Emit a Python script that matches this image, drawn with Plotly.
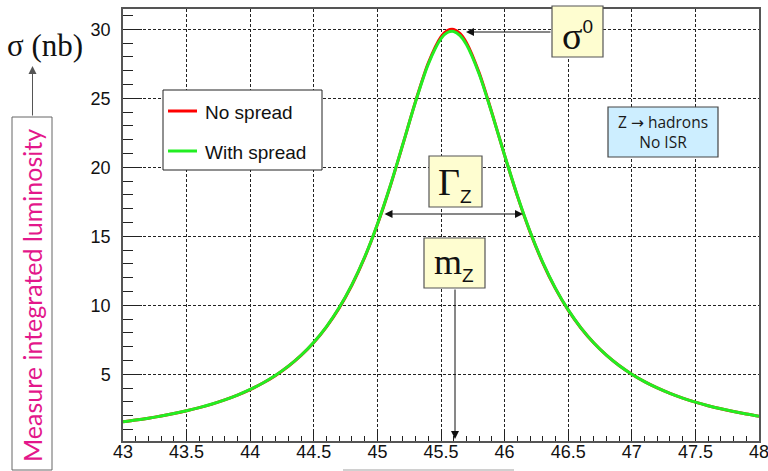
import plotly.graph_objects as go

# ---------------- data ----------------
energy = [43.0, 43.1, 43.2, 43.3, 43.4, 43.5, 43.6, 43.7, 43.8, 43.9,
          44.0, 44.1, 44.2, 44.3, 44.4, 44.5, 44.6, 44.7, 44.8, 44.9,
          45.0, 45.1, 45.2, 45.3, 45.4, 45.5, 45.55, 45.6, 45.65, 45.7,
          45.8, 45.9, 46.0, 46.1, 46.2, 46.3, 46.4, 46.5, 46.6, 46.7,
          46.8, 46.9, 47.0, 47.1, 47.2, 47.3, 47.4, 47.5, 47.6, 47.7,
          47.8, 47.9, 48.0]

no_spread = [1.559, 1.684, 1.823, 1.980, 2.156, 2.357, 2.585, 2.846, 3.146, 3.492,
             3.896, 4.368, 4.924, 5.582, 6.368, 7.308, 8.444, 9.815, 11.474, 13.472,
             15.849, 18.605, 21.657, 24.779, 27.558, 29.452, 29.909, 29.989, 29.688, 29.028,
             26.842, 23.950, 20.864, 17.929, 15.319, 13.083, 11.208, 9.649, 8.356, 7.283,
             6.388, 5.638, 5.006, 4.470, 4.012, 3.619, 3.279, 2.984, 2.727, 2.501,
             2.301, 2.124, 1.967]

with_spread = [1.560, 1.685, 1.824, 1.981, 2.158, 2.359, 2.588, 2.850, 3.151, 3.498,
               3.903, 4.376, 4.934, 5.594, 6.382, 7.324, 8.462, 9.836, 11.498, 13.500,
               15.880, 18.630, 21.669, 24.754, 27.480, 29.324, 29.765, 29.839, 29.544, 28.900,
               26.764, 23.925, 20.876, 17.960, 15.355, 13.112, 11.230, 9.666, 8.369, 7.293,
               6.396, 5.644, 5.011, 4.474, 4.015, 3.621, 3.281, 2.986, 2.728, 2.502,
               2.302, 2.125, 1.968]

x_ticks = [43, 43.5, 44, 44.5, 45, 45.5, 46, 46.5, 47, 47.5, 48]
x_tick_labels = ["43", "43.5", "44", "44.5", "45", "45.5", "46", "46.5", "47", "47.5", "48"]
y_ticks = [5, 10, 15, 20, 25, 30]
y_tick_labels = ["5", "10", "15", "20", "25", "30"]

series_names = ["No spread", "With spread"]
series_colors = ["#ff0000", "#22ee22"]

# ---------------- layout geometry (pixels) ----------------
W, H = 768, 471
L, R, T, B = 123, 759, 9, 441


def px(x):
    return (x - L) / (R - L)


def py(y):
    return (B - y) / (B - T)


fig = go.Figure()
for name, vals, col in zip(series_names, [no_spread, with_spread], series_colors):
    fig.add_trace(go.Scatter(x=energy, y=vals, mode="lines", name=name,
                             line=dict(color=col, width=3, shape="spline", smoothing=0.8),
                             showlegend=False, hoverinfo="skip"))

axis_font = dict(family="Liberation Sans, Arial, sans-serif", size=18, color="#111")

fig.update_xaxes(range=[43, 48], tickmode="array", tickvals=x_ticks, ticktext=x_tick_labels,
                 automargin=False, ticklabeloverflow="allow",
                 ticks="inside", ticklen=10, tickwidth=1, tickcolor="#222",
                 showline=True, linecolor="#555", linewidth=1.5, mirror=True,
                 showgrid=True, gridcolor="#222", gridwidth=1, griddash="3px,2px",
                 zeroline=False, tickfont=axis_font, ticklabelstandoff=-6,
                 minor=dict(dtick=0.1, tick0=43, ticks="inside", ticklen=5.5,
                            tickcolor="#222", tickwidth=1, showgrid=False))
fig.update_yaxes(range=[0.17, 31.47], tickmode="array", tickvals=y_ticks, ticktext=y_tick_labels,
                 automargin=False, ticklabeloverflow="allow",
                 ticks="inside", ticklen=19, tickwidth=1, tickcolor="#222",
                 showline=True, linecolor="#555", linewidth=1.5, mirror=True,
                 showgrid=True, gridcolor="#222", gridwidth=1, griddash="3px,2px",
                 zeroline=False, tickfont=axis_font, ticklabelstandoff=7,
                 minor=dict(dtick=1, tick0=0, ticks="inside", ticklen=10.5,
                            tickcolor="#222", tickwidth=1, showgrid=False))

shapes = []
annotations = []


def rect(x0, y0, x1, y1, fill, line="#555", lw=1.2):
    shapes.append(dict(type="rect", xref="paper", yref="paper",
                       x0=px(x0), x1=px(x1), y0=py(y1), y1=py(y0),
                       fillcolor=fill, line=dict(color=line, width=lw), layer="above"))


def text(x, y, s, size, family, color="#111", angle=0):
    annotations.append(dict(xref="paper", yref="paper", x=px(x), y=py(y), text=s,
                            showarrow=False, xanchor="center", yanchor="middle",
                            textangle=angle, font=dict(size=size, family=family, color=color)))


def arrow(xh, yh, xt, yt, color="#111", both=False):
    annotations.append(dict(xref="paper", yref="paper", x=px(xh), y=py(yh), text="",
                            showarrow=True, ax=xt - xh, ay=yt - yh, axref="pixel", ayref="pixel",
                            arrowhead=2, arrowsize=1.6, arrowwidth=1, arrowcolor=color,
                            standoff=0, startstandoff=0,
                            arrowside="end+start" if both else "end", startarrowhead=2,
                            startarrowsize=1.6))


# legend (drawn manually)
rect(163, 90, 322, 170, "white", line="#222", lw=1)
leg_y = [111, 151]
for name, col, yy in zip(series_names, series_colors, leg_y):
    shapes.append(dict(type="line", xref="paper", yref="paper",
                       x0=px(168), x1=px(197), y0=py(yy), y1=py(yy),
                       line=dict(color=col, width=3), layer="above"))
    annotations.append(dict(xref="paper", yref="paper", x=px(203), y=py(yy + 1.5), text=name,
                            showarrow=False, xanchor="left", yanchor="middle",
                            font=dict(size=19, family="Liberation Sans, Arial, sans-serif",
                                      color="#111")))

serif = "Liberation Serif, Times New Roman, serif"
box_fill = "#fefdd0"
SUBSTYLE = "font-family:Liberation Sans;font-size:19px"

# sigma^0 box
rect(552, 6, 603, 57, box_fill)
text(577, 36, "σ<sup><span style='" + SUBSTYLE + "'>0</span></sup>", 38, serif)
arrow(466, 32, 552, 32)

# Gamma_Z box
rect(429, 156, 482, 207, box_fill)
text(455, 184, "Γ<sub><span style='" + SUBSTYLE + "'>Z</span></sub>", 38, serif)
arrow(523, 214, 383, 214, both=True)

# m_Z box
rect(424, 238, 485, 288, box_fill)
text(454, 264, "m<sub><span style='" + SUBSTYLE + "'>Z</span></sub>", 36, serif)
arrow(455, 439, 455, 288)

# process box
rect(608, 107, 718, 157, "#cdeeff", line="#444")
text(663, 132, "Z <span style='font-family:DejaVu Sans'>→</span> hadrons<br>No ISR", 15.5,
     "Open Sans, Noto Sans, sans-serif", color="#1a1a1a")

# y title and side note
text(45, 45, "σ (nb)", 31, serif, color="#111")
arrow(32.5, 66, 32.5, 117, color="#555")
rect(12, 117, 52, 470, "white", line="#666", lw=1)
text(32, 296, "Measure integrated luminosity", 25, "Lato, Open Sans, sans-serif",
     color="#e3178b", angle=-90)

# faint line at bottom
shapes.append(dict(type="line", xref="paper", yref="paper", x0=px(343), x1=px(514),
                   y0=py(470), y1=py(470), line=dict(color="#d0d0d0", width=2)))

fig.update_layout(width=W, height=H, margin=dict(l=L, r=W - R, t=T, b=H - B),
                  paper_bgcolor="white", plot_bgcolor="white",
                  shapes=shapes, annotations=annotations, showlegend=False)

fig.write_html("out.html", config={"displayModeBar": False},
               post_script="document.body.style.margin='0';")
